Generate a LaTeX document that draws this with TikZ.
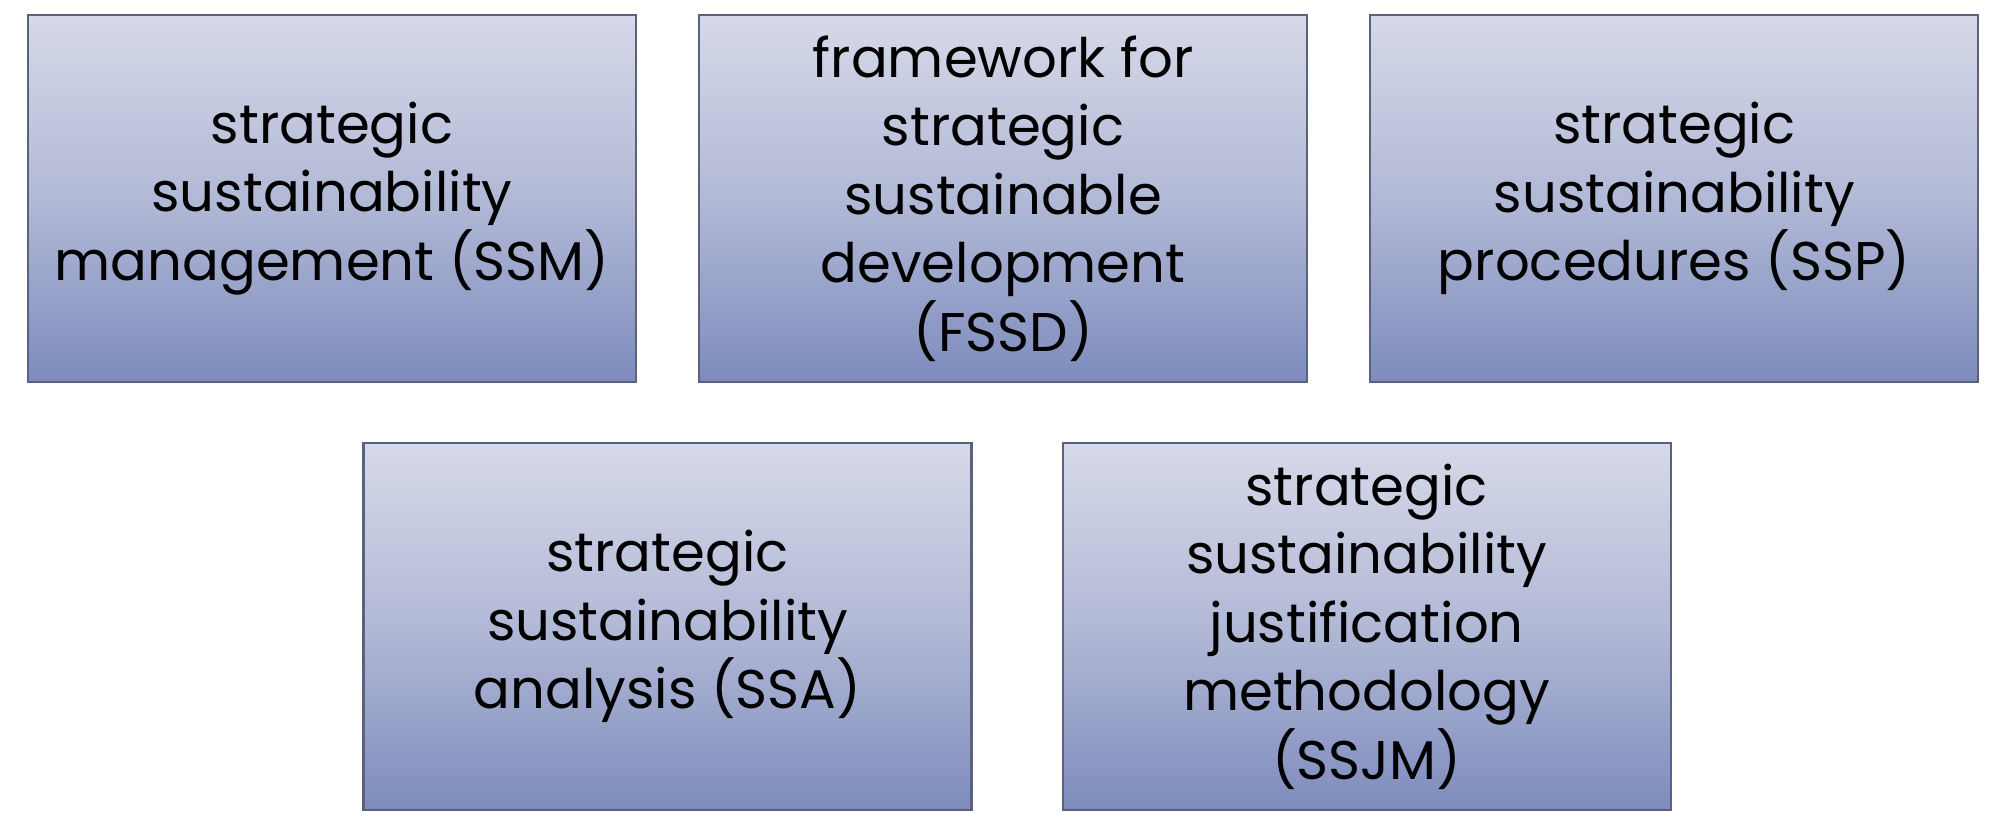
\documentclass[tikz,border=0pt]{standalone}
\usepackage{fontspec}
\setmainfont{Poppins}
\usepackage{tikz}
\usetikzlibrary{shapes,positioning}
\definecolor{boxtop}{RGB}{213,217,232}
\definecolor{boxmid}{RGB}{178,185,214}
\definecolor{boxbot}{RGB}{125,140,189}
\definecolor{boxline}{RGB}{92,97,125}
\tikzstyle{block} = [rectangle, draw=boxline, line width=0.6pt, 
top color=boxtop, bottom color=boxbot, middle color=boxmid,
minimum width=6.08cm, minimum height=3.67cm, inner sep=0pt,
align=center, font=\fontsize{15.5}{19.5}\selectfont]

\begin{document}
\begin{tikzpicture}[node distance = 0.61cm]
\useasboundingbox (0,0) rectangle (20.07,8.23);
% Place nodes
\node [block] (ssm) at (3.32,6.245) {strategic\\sustainability\\management (SSM)};
\node [block, right=of ssm] (fssd) {framework for\\strategic\\sustainable\\development\\(FSSD)};
\node [block, right=of fssd] (ssp) {strategic\\sustainability\\procedures (SSP)};
\node [block] (ssa) at (6.675,1.965) {strategic\\sustainability\\analysis (SSA)};
\node [block, right=0.89cm of ssa] (ssjm) {strategic\\sustainability\\justification\\methodology\\(SSJM)};
\end{tikzpicture}
\end{document}
